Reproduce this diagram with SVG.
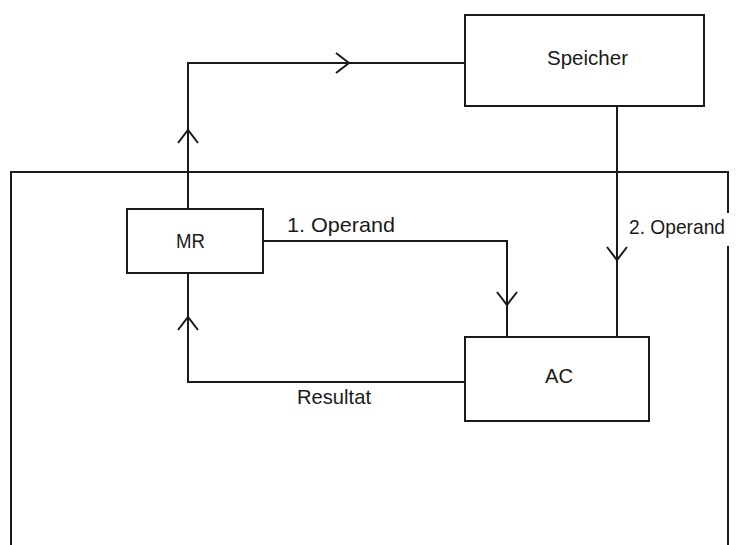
<svg xmlns="http://www.w3.org/2000/svg" xmlns:xlink="http://www.w3.org/1999/xlink" width="738" height="545" viewBox="0 0 738 545">
<style>
.box{fill:none;stroke:#1a1a1a;stroke-width:2}
.ln{fill:none;stroke:#1a1a1a;stroke-width:2;stroke-linejoin:miter}
.t{font-family:"Liberation Sans",Arial,sans-serif;font-size:21px;fill:#1a1a1a}
</style>
<defs>
<path id="chev" d="M -10 13 L 0 0 L 10 13" fill="none" stroke="#1a1a1a" stroke-width="2"/>
</defs>
<rect width="738" height="545" fill="#ffffff"/>
<g id="frame">
<path class="ln" d="M 11 545 L 11 172 L 728 172 L 728 213 M 728 246 L 728 545"/>
</g>
<g id="connectors">
<path class="ln" d="M 188 209 L 188 63 L 465 63"/>
<path class="ln" d="M 617 106 L 617 337"/>
<path class="ln" d="M 263 241 L 507 241 L 507 337"/>
<path class="ln" d="M 465 382 L 188 382 L 188 273"/>
<use xlink:href="#chev" transform="translate(349,63) rotate(90)"/>
<use xlink:href="#chev" transform="translate(188,130)"/>
<use xlink:href="#chev" transform="translate(617,260) rotate(180)"/>
<use xlink:href="#chev" transform="translate(507,305) rotate(180)"/>
<use xlink:href="#chev" transform="translate(188,317)"/>
<text class="t" x="287" y="232" textLength="108" lengthAdjust="spacingAndGlyphs">1. Operand</text>
<text class="t" x="629" y="234" textLength="96" lengthAdjust="spacingAndGlyphs">2. Operand</text>
<text class="t" x="297" y="404" textLength="74" lengthAdjust="spacingAndGlyphs">Resultat</text>
</g>
<g id="speicher">
<rect class="box" x="465" y="15" width="239" height="91"/>
<text class="t" x="547" y="65" textLength="81" lengthAdjust="spacingAndGlyphs">Speicher</text>
</g>
<g id="mr">
<rect class="box" x="127" y="209" width="136" height="64"/>
<text class="t" x="176" y="248" textLength="29" lengthAdjust="spacingAndGlyphs">MR</text>
</g>
<g id="ac">
<rect class="box" x="465" y="337" width="184" height="84"/>
<text class="t" x="545" y="383" textLength="28" lengthAdjust="spacingAndGlyphs">AC</text>
</g>
</svg>
